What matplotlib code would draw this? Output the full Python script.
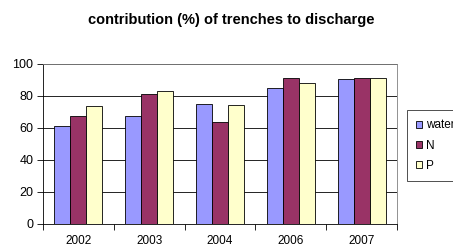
import numpy as np
import matplotlib.pyplot as plt

plt.rcParams["font.family"] = ["Liberation Sans", "DejaVu Sans"]

# ── data ───────────────────────────────────────────────────────────────────────
years = ["2002", "2003", "2004", "2006", "2007"]
water = [61, 67.5, 75, 85, 90.5]
n_vals = [67.5, 81.5, 64, 91.5, 91]
p_vals = [73.5, 83, 74.5, 88, 91]

SERIES = [("water", water, "#9999FF"), ("N", n_vals, "#993366"), ("P", p_vals, "#FFFFCC")]

W, H = 453, 248
fig = plt.figure(figsize=(W / 100, H / 100), dpi=100)
ax = fig.add_axes([43 / W, 1 - 224 / H, (397 - 43) / W, (224 - 64) / H])

x = np.arange(len(years))
bw = 0.226
for i, (name, vals, col) in enumerate(SERIES):
    ax.bar(x + (i - 1) * bw, vals, width=bw, color=col, edgecolor="black",
           linewidth=0.6, label=name, zorder=3)

ax.set_xlim(-0.5, len(years) - 0.5)
ax.set_ylim(0, 100)
ax.set_yticks(range(0, 101, 20))
ax.yaxis.grid(True, color="black", linewidth=0.6, zorder=0)
ax.set_xticks(x)
ax.set_xticklabels(years)
ax.set_xticks(np.arange(-0.5, len(years), 1), minor=True)
ax.tick_params(axis="x", which="major", length=0, labelsize=8.5, pad=8)
ax.tick_params(axis="x", which="minor", length=4, direction="out", width=0.6)
ax.tick_params(axis="y", length=4, direction="out", width=0.6, labelsize=9, pad=3)

for s in ["top", "right"]:
    ax.spines[s].set_color("#808080")
    ax.spines[s].set_linewidth(0.6)
for s in ["left", "bottom"]:
    ax.spines[s].set_linewidth(0.6)

fig.text(231 / W, 1 - 20 / H, "contribution (%) of trenches to discharge",
         ha="center", va="center", fontsize=10.5, fontweight="bold")

leg = fig.legend(loc="upper left", bbox_to_anchor=(407 / W, 1 - 110 / H),
                 fontsize=8.5, frameon=True, fancybox=False, edgecolor="black",
                 handlelength=0.5, handleheight=0.5, handletextpad=0.3,
                 labelspacing=0.7, borderpad=0.8, borderaxespad=0)
leg.get_frame().set_linewidth(0.6)

fig.savefig("out.png", dpi=100)
